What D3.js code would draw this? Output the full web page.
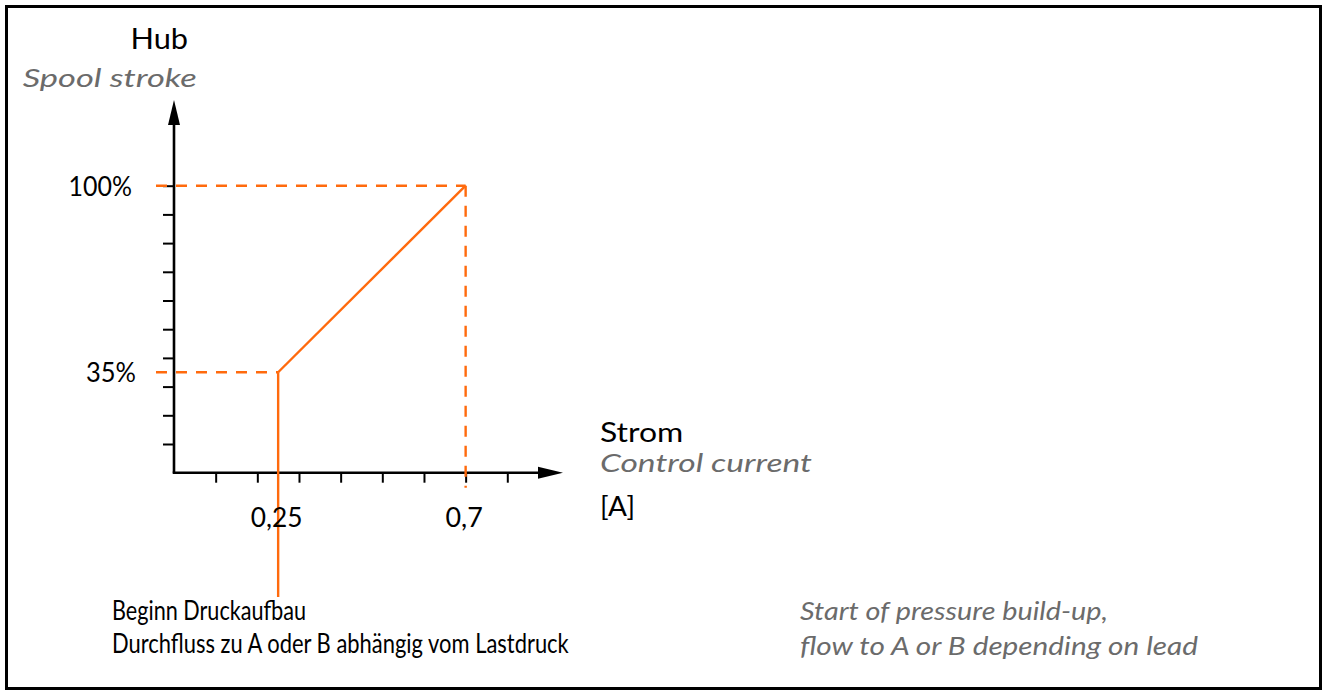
<!DOCTYPE html>
<html><head><meta charset="utf-8">
<script src="https://cdn.jsdelivr.net/npm/d3@7"></script>
<style>html,body{margin:0;padding:0;background:#fff}svg{display:block}</style>
</head><body>
<svg id="c" width="1327" height="695"></svg>
<script>
// ---- data ----
const xTickValues = [0.1, 0.2, 0.3, 0.4, 0.5, 0.6, 0.7, 0.8];
const yTickValues = [10, 20, 30, 40, 50, 60, 70, 80, 90, 100];
const xLabelValues = [0.25, 0.7];
const xLabelTexts = ["0,25", "0,7"];
const yLabelValues = [100, 35];
const yLabelTexts = ["100%", "35%"];
const curveX = [0.25, 0.7];      // control current [A]
const curveY = [35, 100];        // spool stroke [%]
const yTitle = ["Hub", "Spool stroke"];
const xTitle = ["Strom", "Control current", "[A]"];
const noteDe = ["Beginn Druckaufbau", "Durchfluss zu A oder B abhängig vom Lastdruck"];
const noteEn = ["Start of pressure build-up,", "flow to A or B depending on lead"];

// ---- setup ----
const svg = d3.select("#c");
const W = 1327, H = 695;
const ORANGE = "#ff6a0d", GREY = "#6b6b6b";
const FONT = "Lato, 'Open Sans', sans-serif";
const FS = 26;

svg.append("rect").attr("x", 6.5).attr("y", 6.5).attr("width", W - 13).attr("height", H - 13)
  .attr("fill", "#fff").attr("stroke", "#000").attr("stroke-width", 3);

const x = d3.scaleLinear().domain([0, 0.8]).range([174, 507.3]);
const y = d3.scaleLinear().domain([0, 100]).range([472.7, 185.7]);

const x0 = x(0), y0 = y(0);
const xAxisEnd = 563, yAxisEnd = 100;

// helper: text at fixed size, fitted to the measured width
function fitText(g, str, px, py, targetW, opts) {
  opts = opts || {};
  const t = g.append("text").text(str).attr("x", px).attr("y", py)
    .attr("font-family", FONT).attr("font-size", opts.size || FS)
    .attr("fill", opts.fill || "#000")
    .attr("font-style", opts.italic ? "italic" : "normal")
    .attr("text-anchor", opts.anchor || "start")
    .attr("textLength", targetW).attr("lengthAdjust", "spacingAndGlyphs");
  return t;
}

// ---- ticks via d3 axes ----
const yAxis = d3.axisLeft(y).tickValues(yTickValues).tickSize(11).tickSizeOuter(0).tickFormat("");
const gy = svg.append("g").attr("transform", `translate(${x0},0)`).call(yAxis);
gy.select(".domain").remove();
gy.selectAll(".tick line").attr("stroke", "#000").attr("stroke-width", 2);

const xAxis = d3.axisBottom(x).tickValues(xTickValues).tickSize(10).tickSizeOuter(0).tickFormat("");
const gx = svg.append("g").attr("transform", `translate(0,${y0})`).call(xAxis);
gx.select(".domain").remove();
gx.selectAll(".tick line").attr("stroke", "#000").attr("stroke-width", 2);

// ---- axis lines with arrows ----
svg.append("path").attr("d", `M${x0},${y0}V${yAxisEnd + 20}`).attr("stroke", "#000").attr("stroke-width", 2.6).attr("fill", "none");
svg.append("path").attr("d", `M${x0 - 1.3},${y0}H${xAxisEnd - 20}`).attr("stroke", "#000").attr("stroke-width", 2.6).attr("fill", "none");
svg.append("path").attr("d", `M${x0},${yAxisEnd}L${x0 - 6},${yAxisEnd + 25}L${x0 + 6},${yAxisEnd + 25}Z`).attr("fill", "#000");
svg.append("path").attr("d", `M${xAxisEnd},${y0}L${xAxisEnd - 25},${y0 - 6}L${xAxisEnd - 25},${y0 + 6}Z`).attr("fill", "#000");

// ---- dashed reference lines ----
const dash = "11,9";
curveY.forEach((v, i) => {
  svg.append("line").attr("x1", x0 - 18).attr("x2", x(curveX[i])).attr("y1", y(v)).attr("y2", y(v))
    .attr("stroke", ORANGE).attr("stroke-width", 2.4).attr("stroke-dasharray", dash);
});
svg.append("line").attr("x1", x(curveX[1])).attr("x2", x(curveX[1])).attr("y1", y(curveY[1])).attr("y2", y0 + 15)
  .attr("stroke", ORANGE).attr("stroke-width", 2.4).attr("stroke-dasharray", dash);

// ---- characteristic curve ----
const line = d3.line().x(d => x(d[0])).y(d => y(d[1]));
const pts = curveX.map((v, i) => [v, curveY[i]]);
svg.append("path").attr("d", line(pts)).attr("stroke", ORANGE).attr("stroke-width", 2.4).attr("fill", "none");
// leader line from knee down to note
svg.append("path").attr("d", `M${x(curveX[0])},${y(curveY[0])}V597`).attr("stroke", ORANGE).attr("stroke-width", 2.4).attr("fill", "none");

// ---- tick labels ----
const tl = svg.append("g");
const yLabW = [63.4, 50];
const yLabR = [132, 136];
yLabelValues.forEach((v, i) => fitText(tl, yLabelTexts[i], yLabR[i], y(v) + 10, yLabW[i], { anchor: "end" }));
const xLabW = [51.7, 37.3];
xLabelValues.forEach((v, i) => fitText(tl, xLabelTexts[i], x(v) - 1.5, 527, xLabW[i], { anchor: "middle" }));

// ---- titles ----
const tg = svg.append("g");
fitText(tg, yTitle[0], 130.5, 49, 57.6, { size: 28 });
fitText(tg, yTitle[1], 22.7, 87, 174, { italic: true, fill: GREY });
fitText(tg, xTitle[0], 600, 442, 83.3);
fitText(tg, xTitle[1], 600, 472, 212, { italic: true, fill: GREY });
fitText(tg, xTitle[2], 600, 516, 35);

// ---- notes ----
fitText(tg, noteDe[0], 112, 620, 194);
fitText(tg, noteDe[1], 112, 653, 456.7);
fitText(tg, noteEn[0], 800, 620, 308, { italic: true, fill: GREY });
fitText(tg, noteEn[1], 800, 655, 398, { italic: true, fill: GREY });
</script>
</body></html>
